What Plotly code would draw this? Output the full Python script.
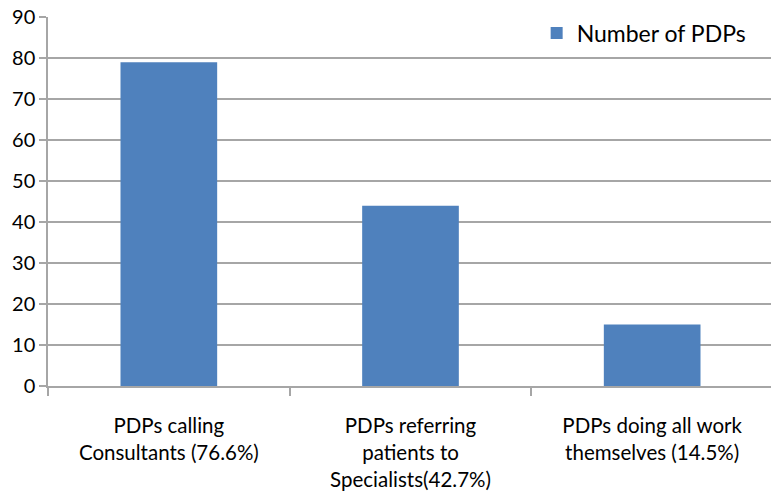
import plotly.graph_objects as go

categories = ["PDPs calling<br>Consultants (76.6%)",
              "PDPs referring<br>patients to<br>Specialists(42.7%)",
              "PDPs doing all work<br>themselves (14.5%)"]
values = [79, 44, 15]
series_name = "Number of PDPs"
y_ticks = [0, 10, 20, 30, 40, 50, 60, 70, 80, 90]

FONT = "Lato"
GRID = "#a6a6a6"

fig = go.Figure()
fig.add_trace(go.Bar(x=categories, y=values, name=series_name,
                     marker=dict(color="#4F81BD", line=dict(width=0)),
                     width=0.4, showlegend=True))

# page body has an 8px margin, so the figure is shifted by 8px
fig.update_layout(
    width=771, height=484,
    margin=dict(l=40, r=6, t=9, b=106, autoexpand=False),
    paper_bgcolor="white", plot_bgcolor="white",
    font=dict(family=FONT, size=21, color="black"),
    showlegend=True,
    legend=dict(x=0.674, y=1.015, xanchor="left", yanchor="top",
                font=dict(family=FONT, size=23, color="black"),
                bgcolor="rgba(0,0,0,0)"),
    bargap=0.6,
)
fig.update_yaxes(range=[0, 90.05], tickvals=y_ticks, showgrid=True,
                 gridcolor=GRID, gridwidth=1.5, automargin=False,
                 showline=True, linecolor=GRID, linewidth=1.5,
                 ticks="outside", ticklen=7, tickcolor=GRID, tickwidth=1.5,
                 ticklabelstandoff=0, zeroline=False, ticklabeloverflow="allow",
                 tickfont=dict(family=FONT, size=20, color="black"))
fig.update_xaxes(showline=True, linecolor=GRID, linewidth=1.5, automargin=False,
                 ticks="outside", ticklen=8, tickcolor=GRID, tickwidth=1.5,
                 tickson="boundaries", showgrid=False,
                 ticklabelstandoff=21, ticklabeloverflow="allow",
                 tickfont=dict(family=FONT, size=20.5, color="black"))

fig.write_html("out.html")
